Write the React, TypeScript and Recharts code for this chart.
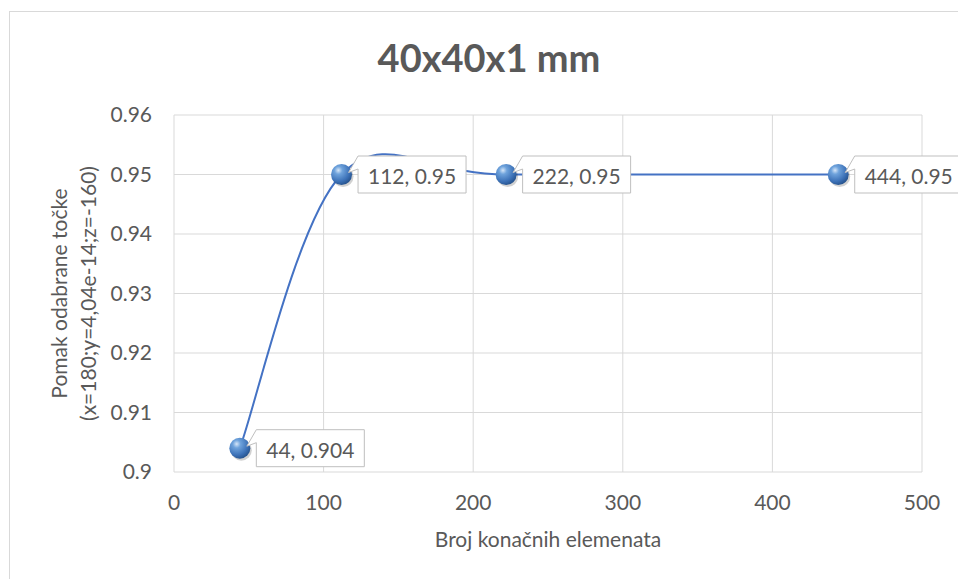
import React from 'react';
import { LineChart, Line, XAxis, YAxis, CartesianGrid } from 'recharts';

const xValues = [44, 112, 222, 444];
const yValues = [0.904, 0.95, 0.95, 0.95];
const xTicks = [0, 100, 200, 300, 400, 500];
const yTicks = [0.9, 0.91, 0.92, 0.93, 0.94, 0.95, 0.96];
const chartTitle = '40x40x1 mm';
const xTitle = 'Broj konačnih elemenata';
const yTitleLines = ['Pomak odabrane točke', '(x=180;y=4,04e-14;z=-160)'];

const data = xValues.map((x, i) => ({ x, y: yValues[i] }));

const FONT = 'Lato, "Open Sans", sans-serif';
const TEXT = '#595959';
const GRID = '#d9d9d9';
const LINE = '#4472C4';

// Excel-like smoothed line (uniform Catmull-Rom as cubic Beziers)
function excelSmooth(context: any) {
  let pts: [number, number][] = [];
  return {
    areaStart() {},
    areaEnd() {},
    lineStart() {
      pts = [];
    },
    point(x: number, y: number) {
      pts.push([+x, +y]);
    },
    lineEnd() {
      const n = pts.length;
      if (!n) return;
      context.moveTo(pts[0][0], pts[0][1]);
      for (let i = 0; i < n - 1; i++) {
        const p0 = pts[Math.max(i - 1, 0)];
        const p1 = pts[i];
        const p2 = pts[i + 1];
        const p3 = pts[Math.min(i + 2, n - 1)];
        context.bezierCurveTo(
          p1[0] + (p2[0] - p0[0]) / 6,
          p1[1] + (p2[1] - p0[1]) / 6,
          p2[0] - (p3[0] - p1[0]) / 6,
          p2[1] - (p3[1] - p1[1]) / 6,
          p2[0],
          p2[1]
        );
      }
    },
  };
}

const DotWithLabel = (props: any) => {
  const { cx, cy, payload, index } = props;
  if (cx == null || cy == null) return null;
  const id = `ball-${index}`;
  const w = 108;
  const h = 37;
  const x0 = cx + 16.5;
  const y0 = cy - 18.5;
  const x1 = x0 + w;
  const y1 = y0 + h;
  const path = `M${x0},${y0} L${x1},${y0} L${x1},${y1} L${x0},${y1} L${x0},${y0 + 13} L${cx + 7},${cy - 2} Z`;
  return (
    <g>
      <defs>
        <radialGradient id={id} cx="35%" cy="30%" r="75%">
          <stop offset="0%" stopColor="#d6e6f8" />
          <stop offset="25%" stopColor="#6fa3dc" />
          <stop offset="70%" stopColor="#3d72b8" />
          <stop offset="100%" stopColor="#24508a" />
        </radialGradient>
      </defs>
      <circle cx={cx + 1.5} cy={cy + 2} r={10.5} fill="rgba(0,0,0,0.18)" />
      <circle cx={cx} cy={cy} r={10.5} fill={`url(#${id})`} />
      <path d={path} fill="#ffffff" stroke="#bfbfbf" strokeWidth={1} />
      <text
        x={x0 + w / 2}
        y={cy + 1}
        textAnchor="middle"
        dominantBaseline="central"
        fill={TEXT}
        fontSize={21}
        fontFamily={FONT}
      >
        {`${payload.x}, ${payload.y}`}
      </text>
    </g>
  );
};

const XTitle = (props: any) => {
  const vb = props.viewBox || {};
  return (
    <text
      x={vb.x + vb.width / 2}
      y={vb.y + 75}
      textAnchor="middle"
      fill={TEXT}
      fontSize={21}
      fontFamily={FONT}
    >
      {xTitle}
    </text>
  );
};

const YTitle = (props: any) => {
  const vb = props.viewBox || {};
  const cy = vb.y + vb.height / 2;
  const xs = [59, 88];
  return (
    <g>
      {yTitleLines.map((t, i) => (
        <text
          key={i}
          x={xs[i]}
          y={cy}
          transform={`rotate(-90 ${xs[i]} ${cy})`}
          textAnchor="middle"
          fill={TEXT}
          fontSize={21}
          fontFamily={FONT}
        >
          {t}
        </text>
      ))}
    </g>
  );
};

export default function App() {
  return (
    <div
      style={{
        position: 'fixed',
        left: 8,
        top: 8,
        width: 950,
        height: 571,
        overflow: 'hidden',
        background: '#ffffff',
        fontFamily: FONT,
      }}
    >
      <div
        style={{
          position: 'absolute',
          left: 1,
          top: 3,
          width: 1000,
          height: 700,
          border: '1px solid #d9d9d9',
          pointerEvents: 'none',
        }}
      />
      <svg
        width={950}
        height={100}
        style={{ position: 'absolute', left: 0, top: 0, pointerEvents: 'none' }}
      >
        <text
          x={481}
          y={64}
          textAnchor="middle"
          fill={TEXT}
          fontSize={38}
          fontWeight="bold"
          fontFamily={FONT}
        >
          {chartTitle}
        </text>
      </svg>
      <div style={{ position: 'absolute', left: 0, top: 0 }}>
        <LineChart
          width={950}
          height={571}
          data={data}
          margin={{ top: 107, right: 36, bottom: 77, left: 106 }}
        >
          <CartesianGrid stroke={GRID} strokeWidth={1} />
          <XAxis
            dataKey="x"
            type="number"
            domain={[0, 500]}
            ticks={xTicks}
            height={30}
            tickLine={false}
            axisLine={false}
            tickSize={6}
            tickMargin={17}
            tick={{ fill: TEXT, fontSize: 21, fontFamily: FONT }}
            label={{ content: XTitle }}
          />
          <YAxis
            type="number"
            domain={[0.9, 0.96]}
            ticks={yTicks}
            width={60}
            tickLine={false}
            axisLine={false}
            tickSize={6}
            tickMargin={16}
            tickFormatter={(v: number) => String(v)}
            tick={{ fill: TEXT, fontSize: 21, fontFamily: FONT }}
            label={{ content: YTitle }}
          />
          <Line
            dataKey="y"
            type={excelSmooth as any}
            stroke={LINE}
            strokeWidth={2}
            dot={DotWithLabel}
            activeDot={false}
            isAnimationActive={false}
          />
        </LineChart>
      </div>
    </div>
  );
}
